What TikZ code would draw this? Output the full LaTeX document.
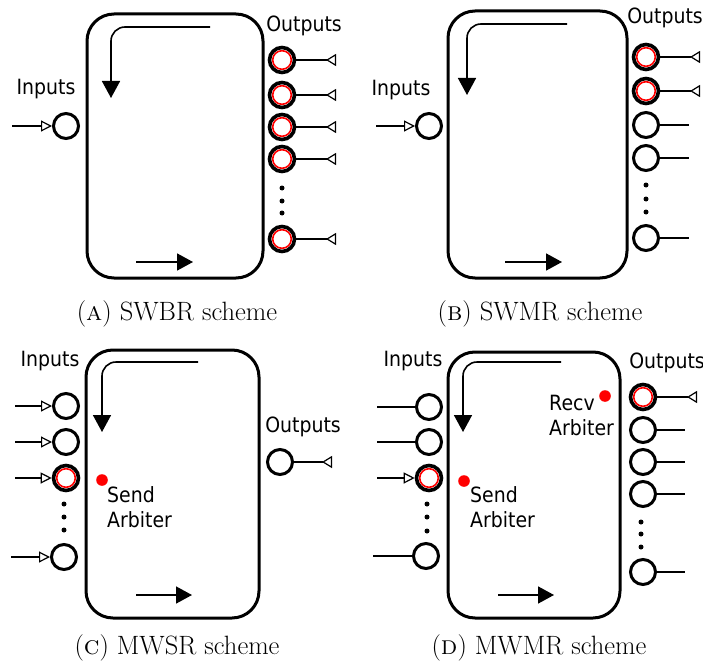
\documentclass[tikz,border=0pt]{standalone}
\usepackage{fontspec}
\usetikzlibrary{arrows.meta}
\newfontfamily\lblfont{DejaVu Sans}[FakeStretch=0.9]

\tikzset{
  box/.style={draw, line width=3pt, rounded corners=27pt, inner sep=0pt},
  port/.style={draw, circle, line width=3pt, minimum size=25pt, inner sep=0pt},
  selport/.style={port, line width=3.6pt,
    path picture={\draw[red, line width=1.6pt] (path picture bounding box.center) circle (9.3pt);}},
  flow/.style={line width=1.6pt, rounded corners=14pt, -{Triangle[length=17pt,width=18pt]}},
  push/.style={line width=1.6pt, -{Triangle[length=16pt,width=17pt]}},
  feed/.style={line width=1.2pt, -{Triangle[open,length=11pt,width=11pt]}},
  tap/.style={line width=1.2pt, -{Triangle[open,reversed,length=10pt,width=12pt]}},
  wire/.style={line width=1.2pt},
  lbl/.style={inner sep=0pt, font=\lblfont\fontsize{21}{24.5}\selectfont},
  captext/.style={inner sep=0pt, font=\fontsize{26.5}{30}\selectfont},
  vdot/.style={fill, circle, minimum size=5pt, inner sep=0pt},
  arb/.style={fill=red, circle, minimum size=11.6pt, inner sep=0pt},
}

\begin{document}
\begin{tikzpicture}[x=1pt, y=-1pt]
\useasboundingbox (0,0) rectangle (703,663);

% ---------------- (a) SWBR ----------------
\node[box, minimum width=176pt, minimum height=264pt] (bA) at (175,146) {};
\draw[flow] (210,27) -| (111,98);
\draw[push] (136,262) -- (193,262);
\node[port] (iA) at (66,126) {};
\coordinate (fA) at (12,126);
\draw[feed] (fA) -- (iA);
\node[lbl, anchor=base] (inA) at (46,95) {Inputs};
\node[lbl, anchor=base] (outA) at (304,32) {Outputs};
\foreach \k/\y in {1/60, 2/95, 3/127, 4/159, 5/239} {
  \node[selport] (oA\k) at (282,\y) {};
  \coordinate (tA\k) at (336,\y);
  \draw[tap] (oA\k) -- (tA\k);
}
\foreach \k/\y in {1/188, 2/201, 3/213} \node[vdot] (dA\k) at (282,\y) {};
\node[captext, anchor=base] (cA) at (177,320) {(\textsc{a}) SWBR scheme};

% ---------------- (b) SWMR ----------------
\node[box, minimum width=179pt, minimum height=267pt] (bB) at (537.5,144.5) {};
\draw[flow] (567,24) -| (467,95);
\draw[push] (505,262) -- (562,262);
\node[port] (iB) at (429,126) {};
\coordinate (fB) at (376,126);
\draw[feed] (fB) -- (iB);
\node[lbl, anchor=base] (inB) at (401,96) {Inputs};
\node[lbl, anchor=base] (outB) at (665,24) {Outputs};
\foreach \k/\y in {1/57, 2/91} {
  \node[selport] (oB\k) at (646,\y) {};
  \coordinate (tB\k) at (700,\y);
  \draw[tap] (oB\k) -- (tB\k);
}
\foreach \k/\y in {3/125, 4/158, 5/238} {
  \node[port] (oB\k) at (646,\y) {};
  \coordinate (tB\k) at (689,\y);
  \draw[wire] (oB\k) -- (tB\k);
}
\foreach \k/\y in {1/185, 2/199, 3/212} \node[vdot] (dB\k) at (646,\y) {};
\node[captext, anchor=base] (cB) at (540,320) {(\textsc{b}) SWMR scheme};

% ---------------- (c) MWSR ----------------
\node[box, minimum width=173pt, minimum height=268pt] (bC) at (172.5,484) {};
\draw[flow] (198,362) -| (102,432);
\draw[push] (136,595) -- (192,595);
\node[port] (iC1) at (66,406) {};
\node[port] (iC2) at (66,442) {};
\node[selport] (iC3) at (66,478) {};
\node[port] (iC4) at (64,557) {};
\foreach \k/\y in {1/406, 2/442, 3/478} {
  \coordinate (fC\k) at (15,\y);
  \draw[feed] (fC\k) -- (iC\k);
}
\coordinate (fC4) at (11,557);
\draw[feed] (fC4) -- (iC4);
\foreach \k/\y in {1/504, 2/517, 3/530} \node[vdot] (dC\k) at (64,\y) {};
\node[lbl, anchor=base] (inC) at (50,366) {Inputs};
\node[lbl, anchor=base] (outC) at (303,432) {Outputs};
\node[port] (oC) at (280,462) {};
\coordinate (tC) at (332,462);
\draw[tap] (oC) -- (tC);
\node[arb] (sC) at (102,480) {};
% multi-line node: the base anchor sits on the last line
\node[lbl, anchor=base west, align=left] (sCt) at (107,527) {Send\\Arbiter};
\node[captext, anchor=base] (cC) at (177,654) {(\textsc{c}) MWSR scheme};

% ---------------- (d) MWMR ----------------
\node[box, minimum width=172pt, minimum height=266pt] (bD) at (534,485) {};
\draw[flow] (561,362) -| (463,432);
\draw[push] (498,595) -- (554,595);
\node[port] (iD1) at (429,407) {};
\node[port] (iD2) at (429,442) {};
\node[selport] (iD3) at (429,478) {};
\node[port] (iD4) at (426,556) {};
\coordinate (fD1) at (377,407);
\coordinate (fD2) at (377,442);
\coordinate (fD3) at (377,478);
\coordinate (fD4) at (373,556);
\draw[wire] (fD1) -- (iD1);
\draw[wire] (fD2) -- (iD2);
\draw[feed] (fD3) -- (iD3);
\draw[wire] (fD4) -- (iD4);
\foreach \k/\y in {1/504, 2/517, 3/531} \node[vdot] (dD\k) at (427,\y) {};
\node[lbl, anchor=base] (inD) at (413,366) {Inputs};
\node[lbl, anchor=base] (outD) at (667,368) {Outputs};
\node[selport] (oD1) at (643,397) {};
\coordinate (tD1) at (697,397);
\draw[tap] (oD1) -- (tD1);
\foreach \k/\y in {2/430, 3/462, 4/494, 5/572} {
  \node[port] (oD\k) at (643,\y) {};
  \coordinate (tD\k) at (685,\y);
  \draw[wire] (oD\k) -- (tD\k);
}
\foreach \k/\y in {1/522, 2/534, 3/547} \node[vdot] (eD\k) at (641,\y) {};
\node[arb] (rD) at (605,396) {};
\node[lbl, anchor=base west, align=left] (rDt) at (549,435) {Recv\\Arbiter};
\node[arb] (sD) at (464,481) {};
\node[lbl, anchor=base west, align=left] (sDt) at (470,527) {Send\\Arbiter};
\node[captext, anchor=base] (cD) at (539,654) {(\textsc{d}) MWMR scheme};
\end{tikzpicture}
\end{document}
